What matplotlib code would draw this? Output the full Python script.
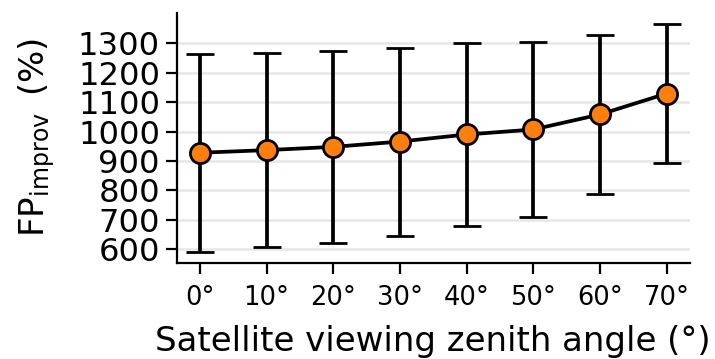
import matplotlib
matplotlib.use("Agg")
import matplotlib.pyplot as plt

# viewing zenith angle (deg) and FP improvement stats
angles = [0, 10, 20, 30, 40, 50, 60, 70]
angle_labels = ["0°", "10°", "20°", "30°", "40°", "50°", "60°", "70°"]
fp_mean = [928, 937, 948, 966, 990, 1007, 1058, 1129]
fp_std = [336, 330, 327, 319, 310, 296, 270, 235]
yticks = [600, 700, 800, 900, 1000, 1100, 1200, 1300]

fig = plt.figure(figsize=(7.15, 3.59), dpi=100)
ax = fig.add_axes([0.247, 0.267, 0.718, 0.697])

ax.errorbar(angles, fp_mean, yerr=fp_std, color="black", lw=2.7,
            elinewidth=2.7, capsize=10, capthick=2.7,
            marker="o", ms=14.5, mfc="#ff7f0e", mec="black", mew=2, zorder=3)

ax.set_xticks(angles)
ax.set_xticklabels(angle_labels)
ax.set_yticks(yticks)
ax.yaxis.grid(True, color="#e6e6e6", lw=1.8, zorder=0)
ax.set_axisbelow(True)

for side in ["top", "right"]:
    ax.spines[side].set_visible(False)
for side in ["left", "bottom"]:
    ax.spines[side].set_linewidth(1.6)

ax.tick_params(axis="both", length=8, width=1.6)
ax.tick_params(axis="y", labelsize=23.2, pad=4)
ax.tick_params(axis="x", labelsize=18.5, pad=8)

ax.set_xlabel("Satellite viewing zenith angle (°)", fontsize=24.5, labelpad=10)
ax.set_ylabel(r"FP$_{\mathrm{improv}}\,$ (%)", fontsize=24.5, labelpad=15)

fig.savefig("out.png", dpi=100)
